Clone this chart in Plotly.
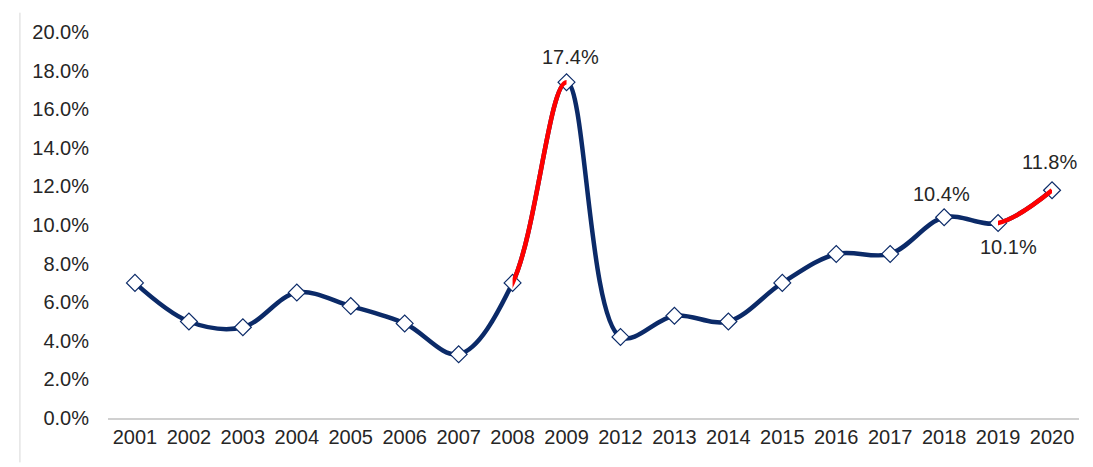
import plotly.graph_objects as go

years = ["2001", "2002", "2003", "2004", "2005", "2006", "2007", "2008", "2009",
         "2012", "2013", "2014", "2015", "2016", "2017", "2018", "2019", "2020"]
values = [7.0, 5.0, 4.7, 6.5, 5.8, 4.9, 3.3, 7.0, 17.4,
          4.2, 5.3, 5.0, 7.0, 8.5, 8.5, 10.4, 10.1, 11.8]
y_ticks = [0, 2, 4, 6, 8, 10, 12, 14, 16, 18, 20]

red_segments = [("2008", "2009"), ("2019", "2020")]
# label year -> (x shift, y shift) in pixels
label_offsets = {"2009": (4, 25), "2018": (-3, 23), "2020": (-3, 28), "2019": (10, -24)}

NAVY = "#0B2A68"
RED = "#FF0000"
FONT = "Liberation Sans, Arial, sans-serif"
TXT = "#262626"
LW = 4.5
SMOOTH = 1.0

n = len(years)
pos = list(range(n))
idx = {y: i for i, y in enumerate(years)}

fig = go.Figure()

# full navy smooth line
fig.add_trace(go.Scatter(x=pos, y=values, mode="lines",
                         line=dict(color=NAVY, width=LW, shape="spline", smoothing=SMOOTH),
                         hoverinfo="skip", showlegend=False))

layout_extra = {}
for k, (a, b) in enumerate(red_segments, start=2):
    i, j = idx[a], idx[b]
    lo, hi = max(i - 1, 0), min(j + 1, n - 1)
    layout_extra[f"xaxis{k}"] = dict(domain=[(i + 0.5) / n, (j + 0.5) / n], range=[i, j],
                                     anchor="y", visible=False, fixedrange=True)
    fig.add_trace(go.Scatter(x=pos[lo:hi + 1], y=values[lo:hi + 1], mode="lines",
                             xaxis=f"x{k}", yaxis="y",
                             line=dict(color=RED, width=LW, shape="spline", smoothing=SMOOTH),
                             hoverinfo="skip", showlegend=False))

# markers on their own overlay axis so they draw above every line layer
layout_extra["xaxis9"] = dict(overlaying="x", range=[-0.5, n - 0.5], visible=False,
                              fixedrange=True)
fig.add_trace(go.Scatter(
    x=pos, y=values, mode="markers", xaxis="x9", yaxis="y",
    marker=dict(symbol="diamond", size=13, color="white",
                line=dict(color=NAVY, width=1.2)),
    showlegend=False, hovertemplate="%{y:.1f}%<extra></extra>", cliponaxis=False))

annotations = []
for yr, (dx, dy) in label_offsets.items():
    annotations.append(dict(x=idx[yr], y=values[idx[yr]], xref="x", yref="y",
                            text=f"{values[idx[yr]]:.1f}%", showarrow=False,
                            xshift=dx, yshift=dy, font=dict(family=FONT, size=20, color=TXT)))

fig.update_layout(
    width=1093, height=467,
    margin=dict(l=108, r=14, t=32, b=49),
    paper_bgcolor="white", plot_bgcolor="rgba(0,0,0,0)",
    font=dict(family=FONT, size=20, color=TXT),
    xaxis=dict(range=[-0.5, n - 0.5], tickvals=pos, ticktext=years,
               showgrid=False, showline=True, linecolor="#D0D0D0", linewidth=1.5,
               ticks="", tickfont=dict(size=20, color=TXT), zeroline=False, fixedrange=True),
    yaxis=dict(range=[0, 20], tickvals=y_ticks,
               ticktext=[f"{v:.1f}%" for v in y_ticks],
               showgrid=False, showline=False, zeroline=False, ticks="",
               tickfont=dict(size=20, color=TXT), ticklabelstandoff=18, fixedrange=True),
    annotations=annotations,
    shapes=[dict(type="line", xref="paper", yref="paper", x0=-0.0907, x1=-0.0907,
                 y0=-0.115, y1=1.05, line=dict(color="#D8D8D8", width=1))],
    **layout_extra,
)

fig.write_html("out.html")
